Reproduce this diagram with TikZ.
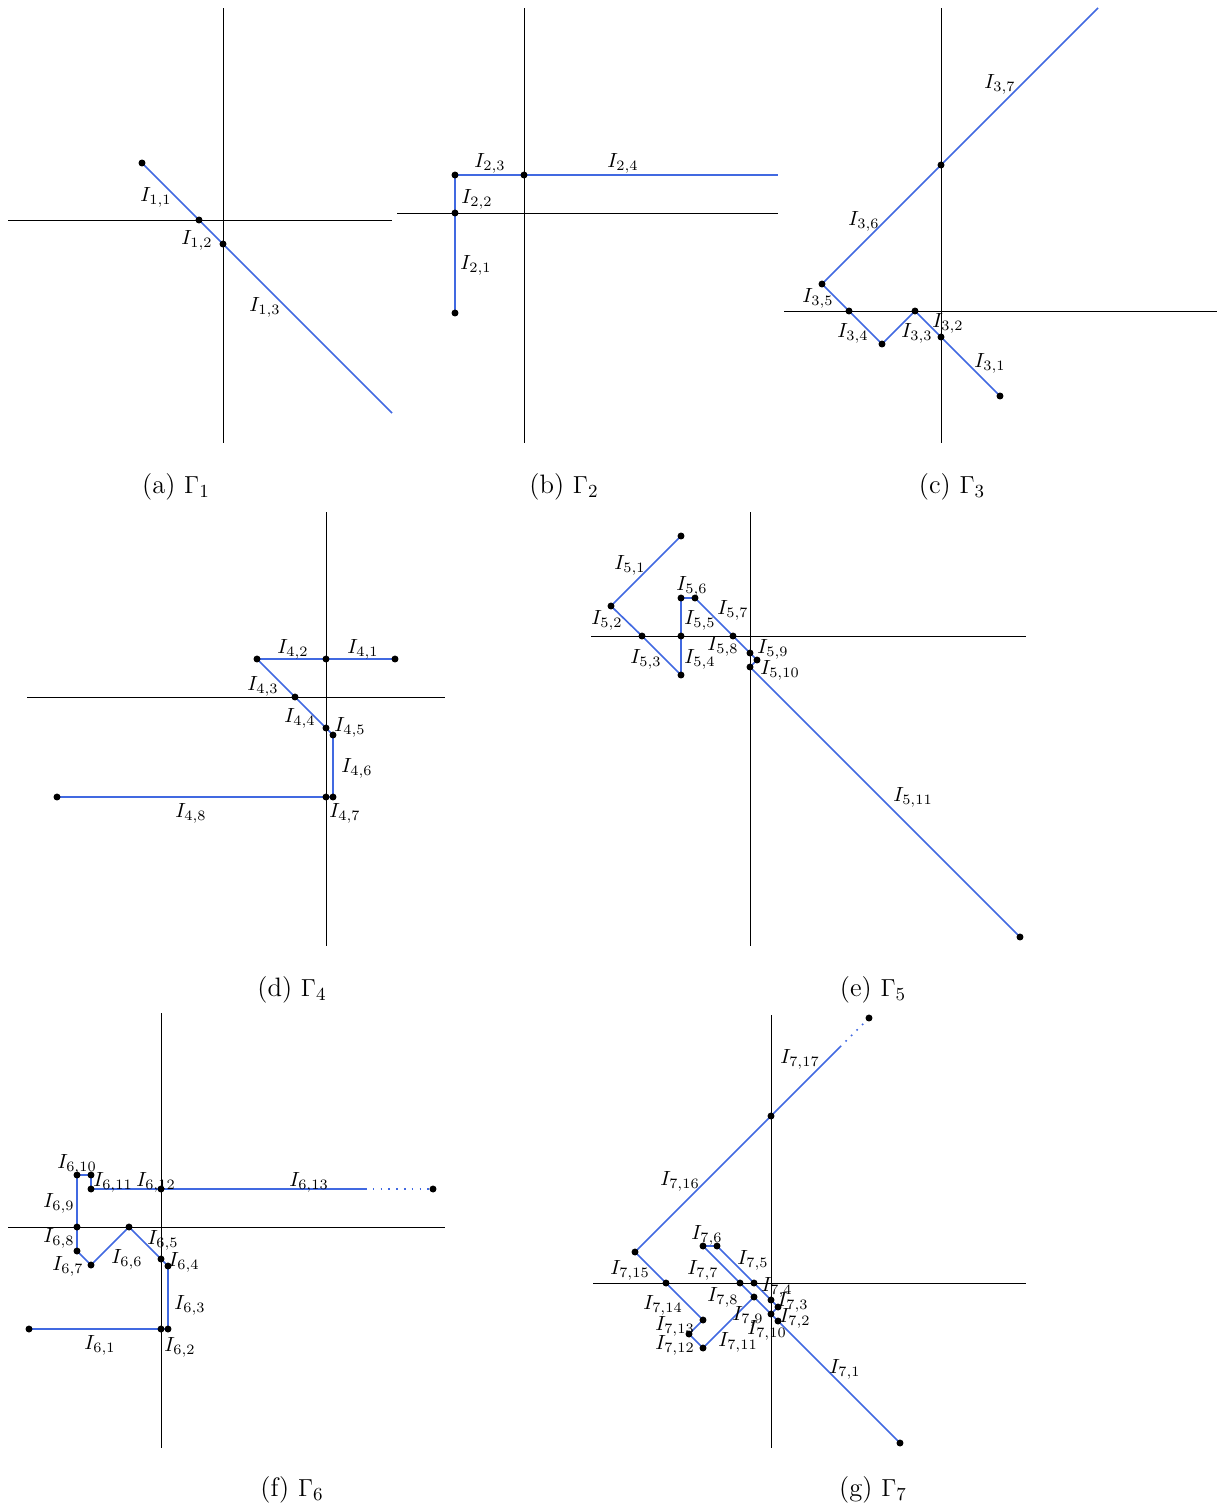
\documentclass[tikz,border=0pt]{standalone}
\definecolor{segblue}{RGB}{65,105,225}
\tikzset{
  axisline/.style={black, line width=0.45pt},
  seg/.style={segblue, line width=0.8pt, line join=round},
  segdots/.style={segblue, line width=0.8pt, dash pattern=on 0.8pt off 3pt},
  vtx/.style={circle, fill=black, inner sep=0pt, minimum size=3.4pt},
  lab/.style={font=\fontsize{10}{12}\selectfont, inner sep=0pt},
  capt/.style={font=\fontsize{13}{16}\selectfont, inner sep=0pt}
}
\begin{document}
\begin{tikzpicture}[x=0.488pt,y=-0.488pt]
\useasboundingbox (0,0) rectangle (1218,1510);
% ---------- (a)
\coordinate (ah1) at (8,220); \coordinate (ah2) at (392,220);
\coordinate (av1) at (223,8); \coordinate (av2) at (223,443);
\draw[axisline] (ah1) -- (ah2); \draw[axisline] (av1) -- (av2);
\coordinate (a0) at (142,163); \coordinate (a1) at (199,220);
\coordinate (a2) at (223,244); \coordinate (a3) at (392,413);
\draw[seg] (a0) -- (a1) -- (a2) -- (a3);
\foreach \p in {a0,a1,a2} {\node[vtx] (n\p) at (\p) {};}
\node[lab] (l11) at (156,197) {$I_{1,1}$};
\node[lab] (l12) at (197,240) {$I_{1,2}$};
\node[lab] (l13) at (265,307) {$I_{1,3}$};
\node[capt] (ca) at (176,487) {(a) $\Gamma_1$};
% ---------- (b)
\coordinate (bh1) at (397,213); \coordinate (bh2) at (778,213);
\coordinate (bv1) at (524,8); \coordinate (bv2) at (524,443);
\draw[axisline] (bh1) -- (bh2); \draw[axisline] (bv1) -- (bv2);
\coordinate (b0) at (455,313); \coordinate (b1) at (455,213);
\coordinate (b2) at (455,175); \coordinate (b3) at (524,175);
\coordinate (b4) at (778,175);
\draw[seg] (b0) -- (b1) -- (b2) -- (b3) -- (b4);
\foreach \p in {b0,b1,b2,b3} {\node[vtx] (n\p) at (\p) {};}
\node[lab] (l21) at (476,265) {$I_{2,1}$};
\node[lab] (l22) at (477,199) {$I_{2,2}$};
\node[lab] (l23) at (490,163) {$I_{2,3}$};
\node[lab] (l24) at (623,163) {$I_{2,4}$};
\node[capt] (cb) at (564,487) {(b) $\Gamma_2$};
% ---------- (c)
\coordinate (ch1) at (784,311); \coordinate (ch2) at (1217,311);
\coordinate (cv1) at (941,8); \coordinate (cv2) at (941,443);
\draw[axisline] (ch1) -- (ch2); \draw[axisline] (cv1) -- (cv2);
\coordinate (c0) at (1000,396); \coordinate (c1) at (941,337);
\coordinate (c2) at (915,311); \coordinate (c3) at (882,344);
\coordinate (c4) at (849,311); \coordinate (c5) at (822,284);
\coordinate (c6) at (941,165); \coordinate (c7) at (1098,8);
\draw[seg] (c0) -- (c1) -- (c2) -- (c3) -- (c4) -- (c5) -- (c6) -- (c7);
\foreach \p in {c0,c1,c2,c3,c4,c5,c6} {\node[vtx] (n\p) at (\p) {};}
\node[lab] (l31) at (990,363) {$I_{3,1}$};
\node[lab] (l32) at (948,323) {$I_{3,2}$};
\node[lab] (l33) at (917,333) {$I_{3,3}$};
\node[lab] (l34) at (853,333) {$I_{3,4}$};
\node[lab] (l35) at (818,298) {$I_{3,5}$};
\node[lab] (l36) at (864,221) {$I_{3,6}$};
\node[lab] (l37) at (1000,84) {$I_{3,7}$};
\node[capt] (cc) at (952,487) {(c) $\Gamma_3$};
% ---------- (d)
\coordinate (dh1) at (27,697); \coordinate (dh2) at (445,697);
\coordinate (dv1) at (326,512); \coordinate (dv2) at (326,946);
\draw[axisline] (dh1) -- (dh2); \draw[axisline] (dv1) -- (dv2);
\coordinate (d0) at (395,659); \coordinate (d1) at (326,659);
\coordinate (d2) at (257,659); \coordinate (d3) at (295,697);
\coordinate (d4) at (326,728); \coordinate (d5) at (333,735);
\coordinate (d6) at (333,797); \coordinate (d7) at (326,797);
\coordinate (d8) at (57,797);
\draw[seg] (d0) -- (d1) -- (d2) -- (d3) -- (d4) -- (d5) -- (d6) -- (d7) -- (d8);
\foreach \p in {d0,d1,d2,d3,d4,d5,d6,d7,d8} {\node[vtx] (n\p) at (\p) {};}
\node[lab] (l41) at (363,649) {$I_{4,1}$};
\node[lab] (l42) at (293,649) {$I_{4,2}$};
\node[lab] (l43) at (263,686) {$I_{4,3}$};
\node[lab] (l44) at (300,718) {$I_{4,4}$};
\node[lab] (l45) at (350,727) {$I_{4,5}$};
\node[lab] (l46) at (357,768) {$I_{4,6}$};
\node[lab] (l47) at (345,813) {$I_{4,7}$};
\node[lab] (l48) at (191,813) {$I_{4,8}$};
\node[capt] (cd) at (292,990) {(d) $\Gamma_4$};
% ---------- (e)
\coordinate (eh1) at (591,636); \coordinate (eh2) at (1026,636);
\coordinate (ev1) at (750,512); \coordinate (ev2) at (750,946);
\draw[axisline] (eh1) -- (eh2); \draw[axisline] (ev1) -- (ev2);
\coordinate (e0) at (681,536); \coordinate (e1) at (611,606);
\coordinate (e2) at (642,636); \coordinate (e3) at (681,675);
\coordinate (e4) at (681,636); \coordinate (e5) at (681,598);
\coordinate (e6) at (695,598); \coordinate (e7) at (733,636);
\coordinate (e8) at (750,653); \coordinate (e9) at (757,660);
\coordinate (e10) at (750,667); \coordinate (e11) at (1020,937);
\draw[seg] (e0) -- (e1) -- (e2) -- (e3) -- (e4) -- (e5) -- (e6) -- (e7) -- (e8) -- (e9) -- (e10) -- (e11);
\foreach \p in {e0,e1,e2,e3,e4,e5,e6,e7,e8,e9,e10,e11} {\node[vtx] (n\p) at (\p) {};}
\node[lab] (l51) at (630,565) {$I_{5,1}$};
\node[lab] (l52) at (607,620) {$I_{5,2}$};
\node[lab] (l53) at (646,659) {$I_{5,3}$};
\node[lab] (l54) at (700,659) {$I_{5,4}$};
\node[lab] (l55) at (700,620) {$I_{5,5}$};
\node[lab] (l56) at (692,586) {$I_{5,6}$};
\node[lab] (l57) at (733,610) {$I_{5,7}$};
\node[lab] (l58) at (723,646) {$I_{5,8}$};
\node[lab] (l59) at (773,649) {$I_{5,9}$};
\node[lab] (l510) at (780,670) {$I_{5,10}$};
\node[lab] (l511) at (913,797) {$I_{5,11}$};
\node[capt] (ce) at (873,990) {(e) $\Gamma_5$};
% ---------- (f)
\coordinate (fh1) at (8,1227); \coordinate (fh2) at (445,1227);
\coordinate (fv1) at (161,1013); \coordinate (fv2) at (161,1448);
\draw[axisline] (fh1) -- (fh2); \draw[axisline] (fv1) -- (fv2);
\coordinate (f0) at (29,1329); \coordinate (f1) at (161,1329);
\coordinate (f2) at (168,1329); \coordinate (f3) at (168,1266);
\coordinate (f4) at (161,1259); \coordinate (f5) at (129,1227);
\coordinate (f6) at (91,1265); \coordinate (f7) at (77,1251);
\coordinate (f8) at (77,1227); \coordinate (f9) at (77,1175);
\coordinate (f10) at (91,1175); \coordinate (f11) at (91,1189);
\coordinate (f12) at (161,1189); \coordinate (f13) at (365,1189);
\coordinate (f14) at (433,1189);
\draw[seg] (f0) -- (f1) -- (f2) -- (f3) -- (f4) -- (f5) -- (f6) -- (f7) -- (f8) -- (f9) -- (f10) -- (f11) -- (f12) -- (f13);
\draw[segdots] (f13) -- (f14);
\foreach \p in {f0,f1,f2,f3,f4,f5,f6,f7,f8,f9,f10,f11,f12,f14} {\node[vtx] (n\p) at (\p) {};}
\node[lab] (l61) at (100,1345) {$I_{6,1}$};
\node[lab] (l62) at (180,1347) {$I_{6,2}$};
\node[lab] (l63) at (190,1305) {$I_{6,3}$};
\node[lab] (l64) at (184,1262) {$I_{6,4}$};
\node[lab] (l65) at (163,1240) {$I_{6,5}$};
\node[lab] (l66) at (127,1259) {$I_{6,6}$};
\node[lab] (l67) at (68,1266) {$I_{6,7}$};
\node[lab] (l68) at (59,1238) {$I_{6,8}$};
\node[lab] (l69) at (59,1203) {$I_{6,9}$};
\node[lab] (l610) at (77,1164) {$I_{6,10}$};
\node[lab] (l611) at (113,1182) {$I_{6,11}$};
\node[lab] (l612) at (156,1182) {$I_{6,12}$};
\node[lab] (l613) at (309,1182) {$I_{6,13}$};
\node[capt] (cf) at (292,1490) {(f) $\Gamma_6$};
% ---------- (g)
\coordinate (gh1) at (593,1283); \coordinate (gh2) at (1026,1283);
\coordinate (gv1) at (771,1015); \coordinate (gv2) at (771,1448);
\draw[axisline] (gh1) -- (gh2); \draw[axisline] (gv1) -- (gv2);
\coordinate (g0) at (900,1443); \coordinate (g1) at (778,1321);
\coordinate (g2) at (771,1314); \coordinate (g3) at (778,1307);
\coordinate (g4) at (771,1300); \coordinate (g5) at (754,1283);
\coordinate (g6) at (717,1246); \coordinate (g7) at (703,1246);
\coordinate (g8) at (740,1283); \coordinate (g9) at (754,1297);
\coordinate (g10) at (703,1348); \coordinate (g11) at (689,1334);
\coordinate (g12) at (703,1320); \coordinate (g13) at (666,1283);
\coordinate (g14) at (635,1252); \coordinate (g15) at (771,1116);
\coordinate (g16) at (840,1047); \coordinate (g17) at (869,1018);
\draw[seg] (g0) -- (g1) -- (g2) -- (g3) -- (g4) -- (g5) -- (g6) -- (g7) -- (g8) -- (g9) -- (g10) -- (g11) -- (g12) -- (g13) -- (g14) -- (g15) -- (g16);
\draw[seg] (g9) -- (g2);
\draw[segdots] (g16) -- (g17);
\foreach \p in {g0,g1,g2,g3,g4,g5,g6,g7,g8,g9,g10,g11,g12,g13,g14,g15,g17} {\node[vtx] (n\p) at (\p) {};}
\node[lab] (l71) at (845,1369) {$I_{7,1}$};
\node[lab] (l72) at (795,1318) {$I_{7,2}$};
\node[lab] (l73) at (793,1302) {$I_{7,3}$};
\node[lab] (l74) at (777,1287) {$I_{7,4}$};
\node[lab] (l75) at (753,1260) {$I_{7,5}$};
\node[lab] (l76) at (707,1235) {$I_{7,6}$};
\node[lab] (l77) at (703,1270) {$I_{7,7}$};
\node[lab] (l78) at (723,1297) {$I_{7,8}$};
\node[lab] (l79) at (748,1316) {$I_{7,9}$};
\node[lab] (l710) at (767,1330) {$I_{7,10}$};
\node[lab] (l711) at (738,1342) {$I_{7,11}$};
\node[lab] (l712) at (675,1345) {$I_{7,12}$};
\node[lab] (l713) at (675,1326) {$I_{7,13}$};
\node[lab] (l714) at (663,1305) {$I_{7,14}$};
\node[lab] (l715) at (630,1270) {$I_{7,15}$};
\node[lab] (l716) at (680,1181) {$I_{7,16}$};
\node[lab] (l717) at (800,1059) {$I_{7,17}$};
\node[capt] (cg) at (873,1490) {(g) $\Gamma_7$};
\end{tikzpicture}
\end{document}
